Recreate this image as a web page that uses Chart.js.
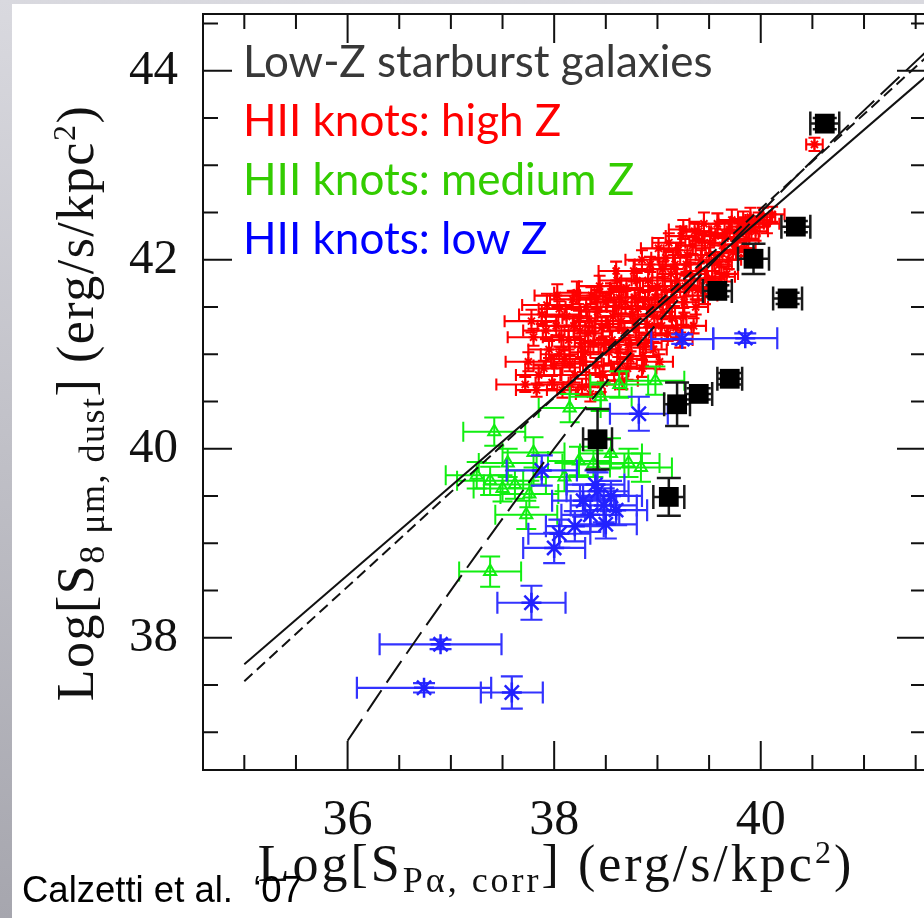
<!DOCTYPE html>
<html lang="en">
<head>
<meta charset="UTF-8">
<title>S(8um, dust) vs S(Pa, corr)</title>
<script src="https://cdn.jsdelivr.net/npm/chart.js"></script>
<style>
  html, body {
    margin: 0;
    padding: 0;
    width: 924px;
    height: 918px;
    overflow: hidden;
    position: relative;
    background: linear-gradient(to bottom, #d9d9df, #a6a6ae);
  }
  .sheet {
    position: absolute;
    left: 12px; top: 4px; right: 0; bottom: 0;
    background: #fff;
  }
  #wrap {
    position: absolute;
    left: 0; top: 0;
    width: 940px; height: 918px;
  }
  .key {
    position: absolute;
    left: 243px;
    font-family: Lato, "Open Sans", sans-serif;
    font-size: 44px;
    line-height: 44px;
    white-space: nowrap;
  }
  .axis-title {
    position: absolute;
    width: 900px;
    height: 52px;
    line-height: 52px;
    text-align: center;
    font-family: "Liberation Serif", "DejaVu Serif", serif;
    font-size: 52px;
    color: #111;
    white-space: nowrap;
  }
  .axis-title sub { font-size: 36px; vertical-align: -11px; line-height: 0; }
  .axis-title sup { font-size: 32px; vertical-align: 18px; line-height: 0; }
  #ytitle { left: -374px; top: 377px; transform: rotate(-90deg); letter-spacing: 1.5px; }
  #xtitle { left: 106px; top: 838px; letter-spacing: 3px; }
  #credit {
    position: absolute;
    left: 22px; top: 872px;
    font-family: "Liberation Sans", Arial, sans-serif;
    font-size: 36.5px;
    line-height: 36px;
    color: #000;
    white-space: nowrap;
  }
</style>
</head>
<body>
<div class="sheet"></div>
<div id="wrap"><canvas id="chart" width="940" height="918"></canvas></div>

<div class="key" style="top:38px; color:#383838;">Low-Z starburst galaxies</div>
<div class="key" style="top:97px; color:#ff0000;">HII knots: high Z</div>
<div class="key" style="top:156px; color:#33cc00;">HII knots: medium Z</div>
<div class="key" style="top:215px; color:#0000ff;">HII knots: low Z</div>

<div class="axis-title" id="ytitle">Log[S<sub>8 μm, dust</sub>] (erg/s/kpc<sup>2</sup>)</div>
<div class="axis-title" id="xtitle">Log[S<sub>Pα, corr</sub>] (erg/s/kpc<sup>2</sup>)</div>
<div id="credit">Calzetti et al.&nbsp; ‘07</div>

<script>
// axis ranges and labelled ticks
const xRange = [34.6, 41.6];
const yRange = [36.6, 44.6];
const xTickLabels = [36, 38, 40];
const yTickLabels = [38, 40, 42, 44];

// low-metallicity starburst galaxies
const galX  = [40.62, 40.34, 39.93, 39.58, 40.26, 39.70, 39.40, 39.19, 38.42, 39.11];
const galY  = [43.44, 42.35, 42.01, 41.67, 41.59, 40.74, 40.58, 40.47, 40.10, 39.49];
const galEX = [0.14, 0.14, 0.15, 0.14, 0.14, 0.12, 0.13, 0.125, 0.14, 0.15];
const galEY = [0.06, 0.06, 0.16, 0.06, 0.06, 0.06, 0.06, 0.23, 0.32, 0.20];

// HII knots, high metallicity
const hiX = [37.72, 37.75, 37.80, 37.83, 37.88, 37.90, 37.95, 37.98, 38.02, 38.05,
             38.08, 38.10, 38.14, 38.18, 38.20, 38.24, 38.27, 38.30, 38.33, 38.36,
             38.40, 38.42, 38.45, 38.48, 38.52, 38.55, 38.58, 38.60, 38.62, 38.66,
             38.68, 38.70, 38.74, 38.76, 38.80, 38.82, 38.85, 38.88, 38.90, 38.93,
             38.96, 39.00, 39.02, 39.05, 39.08, 39.10, 39.13, 39.16, 39.20, 39.22,
             39.25, 39.28, 39.30, 39.34, 39.37, 39.40, 39.43, 39.46, 39.50, 39.53,
             39.56, 39.60, 39.63, 39.67, 39.70, 39.73, 39.77, 39.80, 39.84, 39.88,
             39.92, 39.98, 40.11, 40.52, 38.35, 38.50, 39.05, 38.25, 38.65, 38.15,
             38.78, 38.92, 39.35, 37.92, 38.05, 39.40,
             37.78, 37.85, 37.93, 38.00, 38.03, 38.12, 38.16, 38.22, 38.28, 38.31,
             38.38, 38.44, 38.47, 38.53, 38.57, 38.61, 38.64, 38.69, 38.72, 38.77,
             38.79, 38.83, 38.86, 38.91, 38.94, 38.98, 39.01, 39.04, 39.07, 39.11,
             39.14, 39.17, 39.19, 39.23, 39.26, 39.29, 39.32, 39.36, 39.39, 39.42,
             39.45, 39.48, 39.51, 39.55, 39.58, 39.62, 39.65, 39.69, 39.72, 39.76,
             39.79, 39.83, 39.86, 39.90, 39.95, 40.02, 40.06, 38.85, 39.25, 38.60,
             38.26, 38.34, 38.46, 38.56, 38.63, 38.71, 38.81, 38.89, 38.97, 39.09,
             39.18, 39.27, 38.41, 38.19, 38.07];
const hiY = [40.68, 40.92, 41.18, 40.62, 41.42, 40.85, 41.05, 40.70, 41.30, 41.48,
             40.62, 40.95, 41.15, 41.58, 40.78, 41.38, 40.65, 41.02, 41.22, 41.62,
             40.88, 41.45, 40.68, 41.10, 41.32, 41.66, 40.82, 41.50, 41.05, 40.72,
             41.25, 41.70, 40.95, 41.42, 41.78, 41.15, 40.85, 41.58, 41.32, 41.95,
             41.05, 41.72, 40.92, 41.45, 42.02, 41.22, 41.85, 41.60, 42.10, 41.15,
             41.40, 41.95, 41.70, 42.15, 41.50, 41.88, 42.20, 41.62, 42.05, 41.80,
             42.25, 41.95, 42.15, 41.85, 42.32, 42.08, 42.22, 42.35, 42.12, 42.30,
             42.38, 42.42, 42.48, 43.22, 40.58, 41.55, 41.90, 41.25, 41.35, 40.90,
             41.60, 41.50, 41.30, 41.25, 41.00, 42.30,
             41.35, 40.78, 41.52, 40.88, 41.62, 41.40, 40.68, 41.65, 40.92, 41.50,
             41.12, 41.72, 40.78, 41.02, 41.40, 41.78, 40.90, 41.55, 41.10, 41.88,
             41.28, 41.68, 40.98, 41.78, 41.20, 41.60, 42.12, 41.30, 41.68, 42.18,
             41.38, 41.95, 41.78, 42.25, 41.55, 42.05, 41.85, 42.30, 41.68, 42.00,
             42.38, 41.78, 42.18, 41.98, 42.38, 41.82, 42.28, 42.00, 42.42, 42.10,
             42.28, 42.40, 42.22, 42.45, 42.30, 42.45, 42.38, 42.00, 42.32, 41.88,
             41.08, 41.35, 41.28, 41.15, 41.60, 40.85, 41.48, 41.12, 41.40, 41.55,
             41.28, 41.72, 41.58, 41.30, 41.18];
const hiEX = [0.28, 0.22, 0.25, 0.20, 0.22, 0.18, 0.20, 0.16, 0.18, 0.20,
              0.15, 0.18, 0.16, 0.22, 0.14, 0.16, 0.18, 0.15, 0.14, 0.18,
              0.15, 0.16, 0.14, 0.15, 0.13, 0.16, 0.14, 0.15, 0.13, 0.15,
              0.14, 0.16, 0.13, 0.14, 0.15, 0.13, 0.14, 0.13, 0.14, 0.15,
              0.13, 0.14, 0.13, 0.12, 0.14, 0.12, 0.13, 0.12, 0.14, 0.12,
              0.13, 0.12, 0.13, 0.12, 0.12, 0.13, 0.12, 0.12, 0.13, 0.12,
              0.12, 0.12, 0.12, 0.11, 0.12, 0.11, 0.12, 0.11, 0.11, 0.11,
              0.11, 0.11, 0.12, 0.08, 0.14, 0.15, 0.13, 0.15, 0.14, 0.16,
              0.13, 0.13, 0.12, 0.22, 0.18, 0.12,
              0.26, 0.22, 0.24, 0.20, 0.22, 0.20, 0.18, 0.22, 0.18, 0.20,
              0.18, 0.20, 0.16, 0.18, 0.17, 0.18, 0.16, 0.17, 0.16, 0.18,
              0.16, 0.16, 0.15, 0.16, 0.15, 0.16, 0.17, 0.15, 0.15, 0.16,
              0.14, 0.15, 0.14, 0.15, 0.14, 0.14, 0.14, 0.14, 0.13, 0.14,
              0.14, 0.13, 0.14, 0.13, 0.13, 0.13, 0.13, 0.12, 0.13, 0.12,
              0.12, 0.12, 0.12, 0.12, 0.12, 0.12, 0.12, 0.16, 0.14, 0.17,
              0.17, 0.16, 0.16, 0.17, 0.16, 0.15, 0.16, 0.15, 0.16, 0.15,
              0.15, 0.14, 0.17, 0.18, 0.18];
const hiEY = [0.08, 0.10, 0.09, 0.07, 0.10, 0.08, 0.09, 0.07, 0.10, 0.08,
              0.08, 0.09, 0.10, 0.09, 0.08, 0.08, 0.09, 0.10, 0.08, 0.09,
              0.08, 0.10, 0.08, 0.09, 0.08, 0.09, 0.10, 0.08, 0.08, 0.09,
              0.08, 0.10, 0.08, 0.09, 0.08, 0.08, 0.09, 0.08, 0.10, 0.08,
              0.08, 0.09, 0.08, 0.08, 0.09, 0.08, 0.08, 0.09, 0.08, 0.08,
              0.09, 0.08, 0.08, 0.09, 0.08, 0.08, 0.08, 0.09, 0.08, 0.08,
              0.08, 0.09, 0.08, 0.08, 0.08, 0.08, 0.08, 0.08, 0.08, 0.08,
              0.08, 0.08, 0.08, 0.07, 0.08, 0.09, 0.08, 0.09, 0.08, 0.08,
              0.09, 0.08, 0.08, 0.09, 0.08, 0.08,
              0.12, 0.11, 0.12, 0.10, 0.12, 0.11, 0.10, 0.12, 0.11, 0.10,
              0.12, 0.11, 0.10, 0.12, 0.11, 0.10, 0.11, 0.12, 0.10, 0.11,
              0.10, 0.12, 0.10, 0.11, 0.12, 0.10, 0.11, 0.10, 0.12, 0.10,
              0.11, 0.10, 0.12, 0.10, 0.11, 0.10, 0.12, 0.10, 0.11, 0.10,
              0.12, 0.10, 0.11, 0.10, 0.11, 0.10, 0.12, 0.10, 0.11, 0.10,
              0.10, 0.11, 0.10, 0.10, 0.10, 0.10, 0.10, 0.10, 0.10, 0.10,
              0.11, 0.12, 0.11, 0.10, 0.11, 0.12, 0.11, 0.10, 0.12, 0.11,
              0.10, 0.11, 0.10, 0.12, 0.11];

// HII knots, medium metallicity
const medX  = [37.42, 37.25, 37.38, 37.50, 37.62, 37.80, 37.76, 37.73, 37.38, 37.55,
               38.24, 38.38, 38.72, 38.84, 38.15, 38.63, 38.98, 38.45, 38.55, 38.10];
const medY  = [40.18, 39.72, 39.66, 39.58, 39.62, 39.96, 39.52, 39.30, 38.70, 39.85,
               39.87, 39.84, 39.85, 39.80, 40.43, 40.68, 40.72, 40.55, 39.95, 39.70];
const medEX = [0.30, 0.30, 0.32, 0.28, 0.30, 0.30, 0.28, 0.30, 0.30, 0.28,
               0.30, 0.30, 0.30, 0.30, 0.30, 0.28, 0.28, 0.30, 0.30, 0.30];
const medEY = [0.15, 0.14, 0.15, 0.14, 0.15, 0.16, 0.14, 0.15, 0.16, 0.15,
               0.15, 0.14, 0.15, 0.15, 0.15, 0.14, 0.15, 0.15, 0.16, 0.15];

// HII knots, low metallicity
const lowX  = [36.74, 36.90, 37.59, 37.78, 37.88, 38.00, 38.05, 38.20, 38.28, 38.35,
               38.42, 38.48, 38.55, 38.40, 38.50, 38.60, 38.82, 39.24, 39.85];
const lowY  = [37.47, 37.93, 37.42, 38.37, 39.77, 38.95, 39.10, 39.18, 39.45, 39.30,
               39.55, 39.40, 39.50, 39.62, 39.20, 39.35, 40.37, 41.16, 41.17];
const lowEX = [0.65, 0.59, 0.30, 0.33, 0.34, 0.30, 0.30, 0.28, 0.30, 0.28,
               0.30, 0.32, 0.30, 0.28, 0.30, 0.30, 0.28, 0.30, 0.31];
const lowEY = [0.05, 0.05, 0.17, 0.18, 0.16, 0.16, 0.15, 0.16, 0.17, 0.18,
               0.20, 0.18, 0.16, 0.15, 0.15, 0.16, 0.18, 0.05, 0.05];

// fits: solid (high-Z knots), short dash, long dash (curved)
const solidX = [35.0, 41.6];
const solidY = [37.72, 43.94];
const shortX = [35.0, 41.6];
const shortY = [37.54, 44.14];
const longX = [36.0, 36.5, 37.0, 37.5, 38.0, 38.5, 39.0, 39.5, 40.0, 40.5, 41.0, 41.6];
const longY = [36.91, 37.72, 38.50, 39.26, 40.00, 40.70, 41.33, 41.93, 42.50, 43.05, 43.58, 44.20];

const pts = (xs, ys) => xs.map((x, i) => ({ x: x, y: ys[i] }));

// error bars with caps, drawn under each dataset's markers
const errorBars = {
  id: 'errorBars',
  beforeDatasetDraw(chart, args) {
    const ds = chart.data.datasets[args.index];
    if (!ds.errX) return;
    const { ctx, chartArea: a, scales: { x, y } } = chart;
    const c = ds.capSize;
    ctx.save();
    ctx.beginPath();
    ctx.rect(a.left, a.top, a.right - a.left, a.bottom - a.top);
    ctx.clip();
    ctx.strokeStyle = ds.errColor;
    ctx.lineWidth = ds.errWidth;
    ds.data.forEach((p, i) => {
      const px = x.getPixelForValue(p.x), py = y.getPixelForValue(p.y);
      const x0 = x.getPixelForValue(p.x - ds.errX[i]);
      const x1 = x.getPixelForValue(p.x + ds.errX[i]);
      const y0 = y.getPixelForValue(p.y - ds.errY[i]);
      const y1 = y.getPixelForValue(p.y + ds.errY[i]);
      ctx.beginPath();
      ctx.moveTo(x0, py); ctx.lineTo(x1, py);
      ctx.moveTo(x0, py - c); ctx.lineTo(x0, py + c);
      ctx.moveTo(x1, py - c); ctx.lineTo(x1, py + c);
      ctx.moveTo(px, y0); ctx.lineTo(px, y1);
      ctx.moveTo(px - c, y0); ctx.lineTo(px + c, y0);
      ctx.moveTo(px - c, y1); ctx.lineTo(px + c, y1);
      ctx.stroke();
    });
    ctx.restore();
  }
};

// box frame with inward ticks on all four sides
const frame = {
  id: 'frame',
  afterDatasetsDraw(chart) {
    const { ctx, chartArea: a, scales: { x, y } } = chart;
    ctx.save();
    ctx.strokeStyle = '#111';
    ctx.lineWidth = 2;
    ctx.strokeRect(a.left, a.top, a.right - a.left, a.bottom - a.top);
    ctx.beginPath();
    for (let v = Math.ceil(x.min * 2) / 2; v <= x.max; v += 0.5) {
      const len = v % 2 === 0 ? 29 : 15;
      const px = x.getPixelForValue(v);
      ctx.moveTo(px, a.bottom); ctx.lineTo(px, a.bottom - len);
      ctx.moveTo(px, a.top); ctx.lineTo(px, a.top + len);
    }
    for (let v = Math.ceil(y.min * 2) / 2; v <= y.max; v += 0.5) {
      const len = v % 2 === 0 ? 29 : 15;
      const py = y.getPixelForValue(v);
      ctx.moveTo(a.left, py); ctx.lineTo(a.left + len, py);
      ctx.moveTo(a.right, py); ctx.lineTo(a.right - len, py);
    }
    ctx.stroke();
    ctx.restore();
  }
};

// keep the plot box fixed: no extra room for overhanging tick labels
const fixBox = (s, w, h) => {
  if (w) s.width = w;
  if (h) s.height = h;
  s.paddingTop = 0; s.paddingBottom = 0;
  s.paddingLeft = 0; s.paddingRight = 0;
};

new Chart(document.getElementById('chart'), {
  type: 'scatter',
  data: {
    datasets: [
      {
        label: 'Low-Z starburst galaxies',
        data: pts(galX, galY), errX: galEX, errY: galEY,
        errColor: '#1a1a1a', errWidth: 2.5, capSize: 12,
        pointStyle: 'rect', pointRadius: 14,
        backgroundColor: '#000', borderColor: '#000', borderWidth: 0,
        order: 1
      },
      {
        label: 'solid fit', data: pts(solidX, solidY), showLine: true,
        borderColor: '#111', borderWidth: 2, pointRadius: 0, order: 2
      },
      {
        label: 'short dash fit', data: pts(shortX, shortY), showLine: true,
        borderColor: '#111', borderWidth: 2, borderDash: [11, 6], pointRadius: 0, order: 2
      },
      {
        label: 'long dash fit', data: pts(longX, longY), showLine: true,
        borderColor: '#111', borderWidth: 2, borderDash: [26, 9], tension: 0.4,
        pointRadius: 0, order: 2
      },
      {
        label: 'HII knots: low Z',
        data: pts(lowX, lowY), errX: lowEX, errY: lowEY,
        errColor: '#3333ff', errWidth: 2.2, capSize: 11,
        pointStyle: 'star', pointRadius: 10, borderWidth: 2.5,
        borderColor: '#2222ff', backgroundColor: '#2222ff',
        order: 3
      },
      {
        label: 'HII knots: medium Z',
        data: pts(medX, medY), errX: medEX, errY: medEY,
        errColor: '#11ee11', errWidth: 2, capSize: 10,
        pointStyle: 'triangle', pointRadius: 7, borderWidth: 2,
        borderColor: '#11ee11', backgroundColor: 'rgba(0,0,0,0)',
        order: 4
      },
      {
        label: 'HII knots: high Z',
        data: pts(hiX, hiY), errX: hiEX, errY: hiEY,
        errColor: '#ff0000', errWidth: 2.1, capSize: 6,
        pointStyle: 'star', pointRadius: 5, borderWidth: 2,
        borderColor: '#ff0000', backgroundColor: '#ff0000',
        order: 5
      }
    ]
  },
  options: {
    responsive: false,
    animation: false,
    events: [],
    layout: { padding: { left: 0, top: 12, right: 9, bottom: 0 } },
    plugins: { legend: { display: false }, tooltip: { enabled: false } },
    scales: {
      x: {
        type: 'linear', min: xRange[0], max: xRange[1],
        grid: { display: false, drawTicks: false }, border: { display: false },
        ticks: { font: { family: '"Liberation Serif", serif', size: 50 }, color: '#111', padding: 21 },
        afterBuildTicks: s => { s.ticks = xTickLabels.map(v => ({ value: v })); },
        afterFit: s => fixBox(s, 0, 148)
      },
      y: {
        type: 'linear', min: yRange[0], max: yRange[1],
        grid: { display: false, drawTicks: false }, border: { display: false },
        ticks: { font: { family: '"Liberation Serif", serif', size: 49 }, color: '#111', padding: 25 },
        afterBuildTicks: s => { s.ticks = yTickLabels.map(v => ({ value: v })); },
        afterFit: s => fixBox(s, 203, 0)
      }
    }
  },
  plugins: [errorBars, frame]
});
</script>
</body>
</html>
